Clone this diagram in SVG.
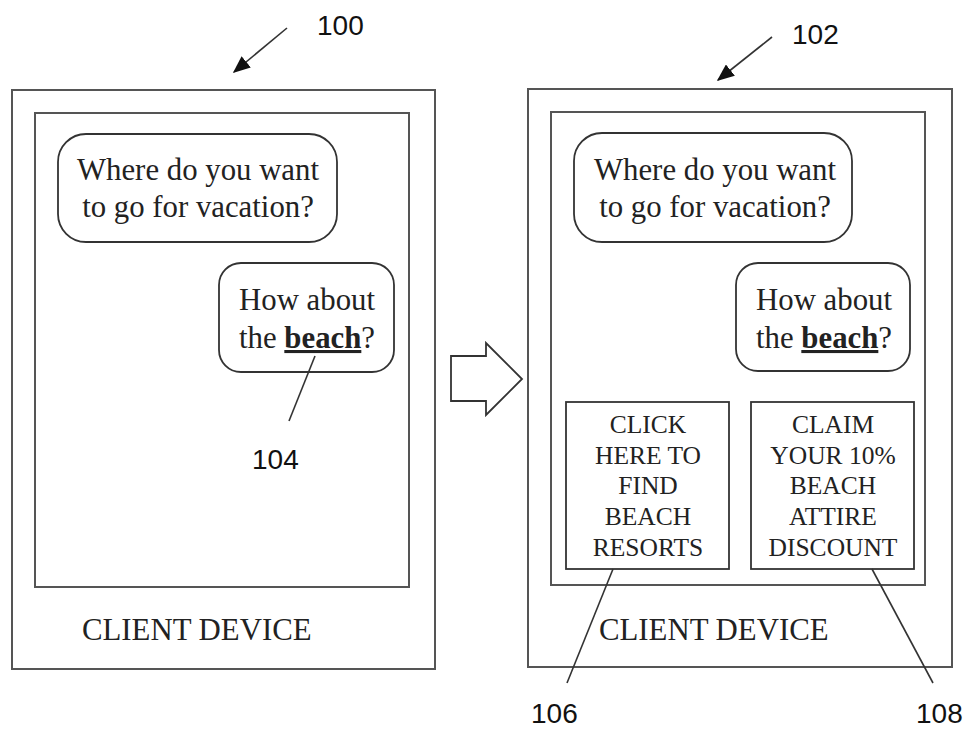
<svg xmlns="http://www.w3.org/2000/svg" width="964" height="731" viewBox="0 0 964 731">
<defs>
<style>
.frame{fill:none;stroke:#555;stroke-width:2}
.box{fill:none;stroke:#333;stroke-width:1.8}
.ser{font-family:"Liberation Serif","Times New Roman",serif;font-size:30.8px;fill:#222}
.ad{font-family:"Liberation Serif","Times New Roman",serif;font-size:25.5px;fill:#222;text-anchor:middle}
.lbl{font-family:"Liberation Sans",Arial,sans-serif;font-size:28px;fill:#111}
.lead{stroke:#333;stroke-width:1.6;fill:none}
.mid{text-anchor:middle}
</style>
<marker id="ah" viewBox="0 0 12 10" refX="11" refY="5" markerWidth="11" markerHeight="9" orient="auto" markerUnits="strokeWidth">
<path d="M0,0 L12,5 L0,10 z" fill="#111"/>
</marker>
</defs>
<rect width="964" height="731" fill="#fff"/>

<g id="device-100">
<rect class="frame" x="12" y="90" width="423" height="579"/>
<rect class="frame" x="35" y="113" width="374" height="474"/>
<text class="ser" x="82" y="640">CLIENT DEVICE</text>
</g>
<g id="bubble-left-1">
<rect class="box" x="58" y="134" width="279" height="108" rx="28"/>
<text class="ser mid" x="198" y="180">Where do you want</text>
<text class="ser mid" x="198" y="217">to go for vacation?</text>
</g>
<g id="bubble-left-2">
<rect class="box" x="219" y="263" width="175" height="109" rx="22"/>
<text class="ser mid" x="307" y="310">How about</text>
<text class="ser mid" x="307" y="348">the <tspan font-weight="bold" text-decoration="underline">beach</tspan>?</text>
</g>

<g id="transition-arrow">
<path class="box" d="M451,356 L486,356 L486,343 L522,379 L486,415 L486,401 L451,401 Z"/>
</g>

<g id="device-102">
<rect class="frame" x="528" y="89" width="424" height="578"/>
<rect class="frame" x="551" y="112" width="374" height="473"/>
<text class="ser" x="599" y="640">CLIENT DEVICE</text>
</g>
<g id="bubble-right-1">
<rect class="box" x="574" y="133" width="278" height="109" rx="28"/>
<text class="ser mid" x="715" y="180">Where do you want</text>
<text class="ser mid" x="715" y="217">to go for vacation?</text>
</g>
<g id="bubble-right-2">
<rect class="box" x="736" y="263" width="174" height="108" rx="22"/>
<text class="ser mid" x="824" y="310">How about</text>
<text class="ser mid" x="824" y="348">the <tspan font-weight="bold" text-decoration="underline">beach</tspan>?</text>
</g>
<g id="ad-106">
<rect class="box" x="566" y="402" width="163" height="167"/>
<text class="ad" x="648" y="433">CLICK</text>
<text class="ad" x="648" y="464">HERE TO</text>
<text class="ad" x="648" y="494">FIND</text>
<text class="ad" x="648" y="525">BEACH</text>
<text class="ad" x="648" y="556">RESORTS</text>
</g>
<g id="ad-108">
<rect class="box" x="751" y="402" width="163" height="167"/>
<text class="ad" x="833" y="433">CLAIM</text>
<text class="ad" x="833" y="464">YOUR 10%</text>
<text class="ad" x="833" y="494">BEACH</text>
<text class="ad" x="833" y="525">ATTIRE</text>
<text class="ad" x="833" y="556">DISCOUNT</text>
</g>

<g id="connectors">
<line class="lead" x1="287" y1="28" x2="234" y2="72" marker-end="url(#ah)"/>
<line class="lead" x1="772" y1="37" x2="718" y2="80" marker-end="url(#ah)"/>
<line class="lead" x1="315" y1="356" x2="289" y2="421"/>
<line class="lead" x1="613" y1="569" x2="567" y2="683"/>
<line class="lead" x1="872" y1="569" x2="933" y2="683"/>
</g>

<g id="labels">
<text class="lbl" x="317" y="35">100</text>
<text class="lbl" x="792" y="44">102</text>
<text class="lbl" x="252" y="469">104</text>
<text class="lbl" x="531" y="723">106</text>
<text class="lbl" x="916" y="723">108</text>
</g>
</svg>
